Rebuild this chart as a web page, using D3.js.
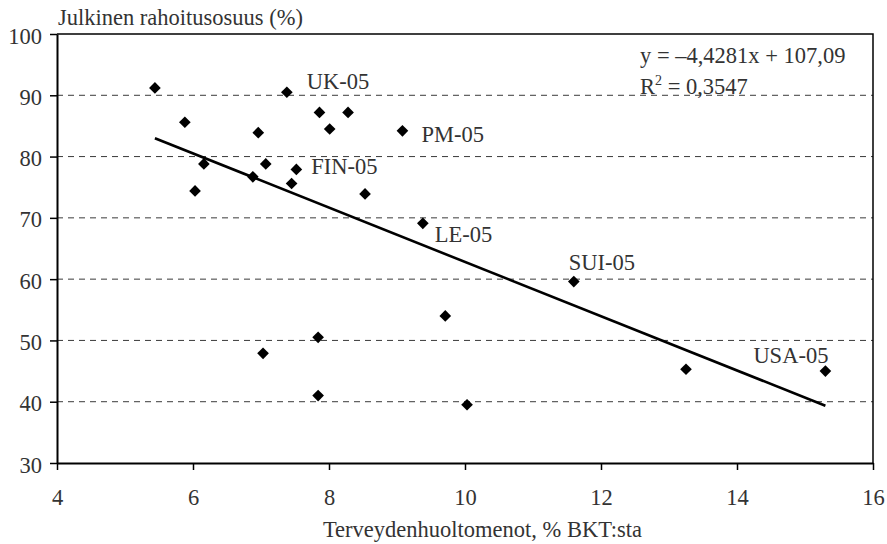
<!DOCTYPE html>
<html>
<head>
<meta charset="utf-8">
<script src="https://cdn.jsdelivr.net/npm/d3@7"></script>
<style>
  html, body { margin: 0; padding: 0; background: #fff; }
</style>
</head>
<body>
<div id="root"></div>
<script>
// Health spending (% of GDP) vs. public funding share (%)
const spending = [5.44, 5.88, 6.16, 6.03, 6.96, 7.07, 6.88, 7.38, 7.86, 8.28, 8.01, 9.08,
                  7.52, 7.45, 8.53, 9.38, 11.60, 9.71, 7.03, 7.84, 7.84, 10.03, 13.25, 15.30];
const publicShare = [91.2, 85.6, 78.8, 74.4, 83.9, 78.8, 76.7, 90.5, 87.2, 87.2, 84.5, 84.2,
                     77.9, 75.6, 73.9, 69.1, 59.6, 54.0, 47.9, 50.5, 41.0, 39.5, 45.3, 45.0];
const pointLabels = ["", "", "", "", "", "", "", "UK-05", "", "", "", "PM-05",
                     "FIN-05", "", "", "LE-05", "SUI-05", "", "", "", "", "", "", "USA-05"];

const xTicks = [4, 6, 8, 10, 12, 14, 16];
const yTicks = [30, 40, 50, 60, 70, 80, 90, 100];
const gridValues = [40, 50, 60, 70, 80, 90];

const trendSlope = -4.4281;
const trendIntercept = 107.09;
const rSquared = "0,3547";

const CONFIG = {
  width: 887,
  height: 544,
  margin: { top: 34, right: 14, bottom: 81, left: 57 },
  font: "'Liberation Serif', 'Times New Roman', serif",
  fontSize: 22.5,
  textColor: "#333",
  markerSize: 68,
  // label offset from its point: dx, dy, anchor
  labelOffsets: {
    "UK-05": [20, -3, "start"],
    "PM-05": [19, 11, "start"],
    "FIN-05": [15, 5, "start"],
    "LE-05": [12, 19, "start"],
    "SUI-05": [-5, -12, "start"],
    "USA-05": [3, -8, "end"]
  }
};

function styleText(sel) {
  return sel
    .style("font-family", CONFIG.font)
    .style("font-size", CONFIG.fontSize + "px")
    .style("fill", CONFIG.textColor);
}

function drawChart() {
  const { width, height, margin } = CONFIG;
  const innerW = width - margin.left - margin.right;
  const innerH = height - margin.top - margin.bottom;

  const svg = d3.select("#root").append("svg")
    .attr("width", width)
    .attr("height", height);

  const x = d3.scaleLinear().domain([4, 16]).range([margin.left, margin.left + innerW]);
  const y = d3.scaleLinear().domain([30, 100]).range([margin.top + innerH, margin.top]);

  // dashed grid
  svg.append("g").selectAll("line")
    .data(gridValues)
    .enter().append("line")
    .attr("x1", x(4)).attr("x2", x(16))
    .attr("y1", d => y(d)).attr("y2", d => y(d))
    .attr("stroke", "#3a3a3a")
    .attr("stroke-width", 1)
    .attr("stroke-dasharray", "6,5");

  // top and right frame
  svg.append("path")
    .attr("d", `M${x(4)},${y(100)}H${x(16)}V${y(30)}`)
    .attr("fill", "none")
    .attr("stroke", "#000")
    .attr("stroke-width", 1.5);

  const xAxis = d3.axisBottom(x).tickValues(xTicks).tickSize(7).tickSizeOuter(0).tickPadding(19);
  const yAxis = d3.axisLeft(y).tickValues(yTicks).tickSize(7).tickSizeOuter(0).tickPadding(8);

  const gx = svg.append("g")
    .attr("transform", `translate(0,${y(30)})`)
    .call(xAxis);
  const gy = svg.append("g")
    .attr("transform", `translate(${x(4)},0)`)
    .call(yAxis);

  [gx, gy].forEach(g => {
    g.attr("font-family", null).attr("font-size", null);
    g.select(".domain").attr("stroke", "#000").attr("stroke-width", 2);
    g.selectAll(".tick line").attr("stroke", "#000").attr("stroke-width", 1.5);
    styleText(g.selectAll(".tick text"));
  });
  gy.selectAll(".tick text").attr("dy", "0.4em");

  // trend line
  const xMin = d3.min(spending), xMax = d3.max(spending);
  const trend = [xMin, xMax].map(v => [x(v), y(trendSlope * v + trendIntercept)]);
  svg.append("path")
    .attr("d", d3.line()(trend))
    .attr("fill", "none")
    .attr("stroke", "#000")
    .attr("stroke-width", 2.6);

  // points
  const diamond = d3.symbol().type(d3.symbolSquare).size(CONFIG.markerSize);
  svg.append("g").selectAll("path")
    .data(spending)
    .enter().append("path")
    .attr("d", diamond)
    .attr("transform", (d, i) => `translate(${x(d)},${y(publicShare[i])}) rotate(45)`)
    .attr("fill", "#000");

  // point labels
  styleText(svg.append("g").selectAll("text")
    .data(pointLabels.map((name, i) => ({ name, i })).filter(d => d.name))
    .enter().append("text")
    .attr("x", d => x(spending[d.i]) + CONFIG.labelOffsets[d.name][0])
    .attr("y", d => y(publicShare[d.i]) + CONFIG.labelOffsets[d.name][1])
    .attr("text-anchor", d => CONFIG.labelOffsets[d.name][2])
    .text(d => d.name));

  // equation
  const eqX = 640;
  styleText(svg.append("text")
    .attr("x", eqX).attr("y", 63)
    .text(`y = \u2013${String(-trendSlope).replace(".", ",")}x + ${String(trendIntercept).replace(".", ",")}`));
  const r2 = styleText(svg.append("text")
    .attr("x", eqX).attr("y", 94));
  r2.append("tspan").text("R");
  r2.append("tspan").attr("dy", -9).style("font-size", "14px").text("2");
  r2.append("tspan").attr("dy", 9).text(` = ${rSquared}`);

  // axis titles
  styleText(svg.append("text")
    .attr("x", margin.left + 1).attr("y", 25)
    .text("Julkinen rahoitusosuus (%)"));

  styleText(svg.append("text")
    .attr("x", 482.5).attr("y", 537)
    .attr("text-anchor", "middle")
    .text("Terveydenhuoltomenot, % BKT:sta"));
}

drawChart();
</script>
</body>
</html>
